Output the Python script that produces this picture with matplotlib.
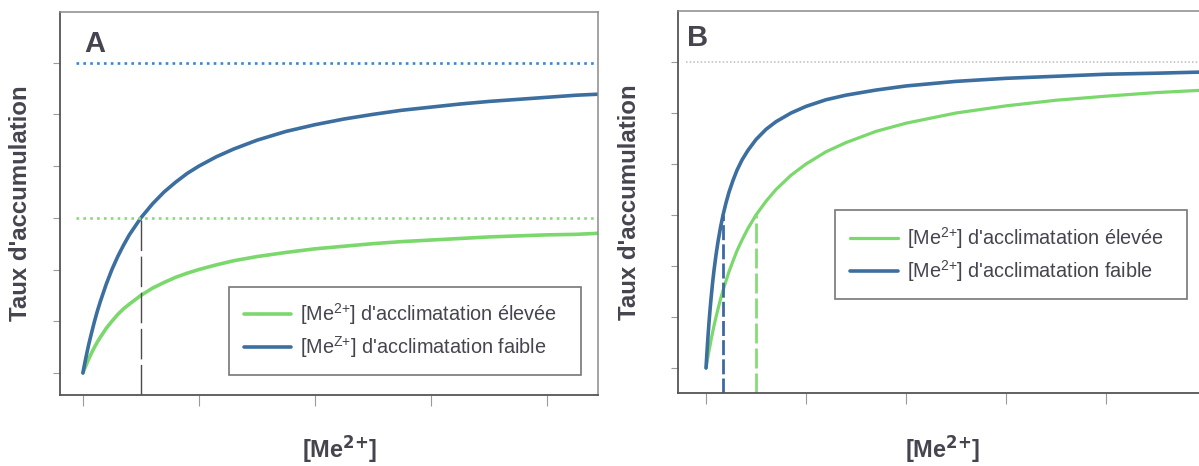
import matplotlib
matplotlib.use("Agg")
import matplotlib.pyplot as plt

plt.rcParams['font.family'] = ['Liberation Sans', 'DejaVu Sans']
plt.rcParams['mathtext.default'] = 'regular'

TXT = '#46444f'
GREEN = '#7bd86c'
BLUE = '#3c6f9f'

# panel A : values
xa = [0, 0.01, 0.025, 0.05, 0.075, 0.1, 0.125, 0.15, 0.2, 0.25, 0.3, 0.35, 0.4,
      0.5, 0.6, 0.7, 0.8, 0.9, 1.0, 1.15, 1.3, 1.5, 1.75, 2.0, 2.25, 2.5, 2.75,
      3.0, 3.25, 3.5, 3.75, 4.0, 4.25, 4.44]
ya_faible = [0, 0.12, 0.29, 0.55, 0.78, 1.0, 1.2, 1.38, 1.71, 2.0, 2.25, 2.47,
             2.67, 3.0, 3.27, 3.5, 3.69, 3.86, 4.0, 4.18, 4.33, 4.5, 4.67, 4.8,
             4.91, 5.0, 5.08, 5.14, 5.2, 5.25, 5.29, 5.33, 5.37, 5.39]
ya_elevee = [0, 0.06, 0.14, 0.27, 0.39, 0.5, 0.6, 0.69, 0.86, 1.0, 1.13, 1.24,
             1.33, 1.5, 1.64, 1.75, 1.85, 1.93, 2.0, 2.09, 2.17, 2.25, 2.33, 2.4,
             2.45, 2.5, 2.54, 2.57, 2.6, 2.63, 2.65, 2.67, 2.68, 2.70]
vmax_a = [6, 3]          # faible, elevee
km_a = 0.5

# panel B
xb = [0, 0.005, 0.01, 0.02, 0.03, 0.04, 0.05, 0.065, 0.08, 0.1, 0.12, 0.145,
      0.17, 0.2, 0.23, 0.27, 0.31, 0.36, 0.42, 0.5, 0.6, 0.7, 0.85, 1.0, 1.2,
      1.4, 1.7, 2.0, 2.5, 3.0, 3.5, 4.0, 4.5, 5.1]
yb_faible = [0, 0.17, 0.33, 0.63, 0.9, 1.14, 1.36, 1.66, 1.92, 2.22, 2.48, 2.76,
             3.0, 3.24, 3.45, 3.68, 3.88, 4.08, 4.27, 4.48, 4.68, 4.83, 5.0, 5.13,
             5.26, 5.35, 5.45, 5.53, 5.62, 5.68, 5.72, 5.76, 5.78, 5.81]
yb_elevee = [0, 0.06, 0.12, 0.23, 0.34, 0.44, 0.55, 0.69, 0.83, 1.0, 1.16, 1.35,
             1.52, 1.71, 1.89, 2.1, 2.3, 2.51, 2.74, 3.0, 3.27, 3.5, 3.78, 4.0,
             4.24, 4.42, 4.64, 4.8, 5.0, 5.14, 5.25, 5.33, 5.4, 5.46]
vmax_b = 6
km_b = [0.17, 0.5]       # faible, elevee

lab_elevee = "[Me$^{2{+}}$] d'acclimatation élevée"
lab_faible_a = "[Me$^{Z{+}}$] d'acclimatation faible"
lab_faible_b = "[Me$^{2{+}}$] d'acclimatation faible"


def style_axes(ax, xticks):
    ax.set_xticks(xticks)
    ax.set_yticks(range(7))
    ax.set_xticklabels([])
    ax.set_yticklabels([])
    ax.tick_params(axis='y', length=5, width=0.8, color='#9a9a9a', direction='out')
    ax.tick_params(axis='x', length=8, width=0.8, color='#9a9a9a', direction='out')
    for side in ['left', 'bottom']:
        ax.spines[side].set_color('#555555')
        ax.spines[side].set_linewidth(1.3)
    for side in ['top', 'right']:
        ax.spines[side].set_color('#8a8a8a')
        ax.spines[side].set_linewidth(1.1)


def add_legend(ax, labels, anchor):
    leg = ax.legend(labels, loc='lower left', bbox_to_anchor=anchor, mode='expand',
                    fontsize=14.3, frameon=True, fancybox=False, borderpad=0.75,
                    handlelength=2.4, handletextpad=0.45, labelspacing=0.35,
                    borderaxespad=0)
    leg.get_frame().set_edgecolor('#555555')
    leg.get_frame().set_linewidth(1.2)
    for t in leg.get_texts():
        t.set_color(TXT)
    return leg


fig = plt.figure(figsize=(11.99, 4.66), dpi=100)

# ---- panel A
axA = fig.add_axes([0.050, 0.1524, 0.4487, 0.8219])
axA.set_xlim(-0.198, 4.44)
axA.set_ylim(-0.426, 6.98)
axA.plot(xa, ya_elevee, color=GREEN, lw=2.6, solid_capstyle='round')
axA.plot(xa, ya_faible, color=BLUE, lw=2.6, solid_capstyle='round')
axA.plot([-0.06, 4.44], [vmax_a[0]] * 2, color='#3a86cc', lw=1.9, dashes=(1, 1.6))
axA.plot([-0.06, 4.44], [vmax_a[1]] * 2, color='#86dc78', lw=1.9, dashes=(1, 1.6))
axA.plot([km_a, km_a], [-0.426, vmax_a[1]], color='#4a4a4a', lw=1.0, dashes=(22, 4))
style_axes(axA, range(5))
axA.text(0.046, 0.896, 'A', transform=axA.transAxes, fontsize=21, fontweight='bold',
         color=TXT, va='baseline')
leg = add_legend(axA, [lab_elevee, lab_faible_a], (0.314, 0.052, 0.654, 0.24))
leg.legend_handles[0].set_color(GREEN)
leg.legend_handles[1].set_color(BLUE)

# ---- panel B
axB = fig.add_axes([0.5655, 0.1567, 0.4487, 0.8197])
axB.set_xlim(-0.28, 5.10)
axB.set_ylim(-0.49, 7.0)
axB.plot(xb, yb_elevee, color=GREEN, lw=2.3, solid_capstyle='round')
axB.plot(xb, yb_faible, color=BLUE, lw=2.6, solid_capstyle='round')
axB.plot([-0.2, 5.1], [vmax_b] * 2, color='#bdbdbd', lw=1.1, dashes=(1, 1.4))
axB.plot([km_b[0], km_b[0]], [-0.49, vmax_b / 2], color='#3d68a3', lw=2.0, dashes=(5.4, 1.5))
axB.plot([km_b[1], km_b[1]], [-0.49, vmax_b / 2], color='#86dc78', lw=2.0, dashes=(7.2, 1.8))
style_axes(axB, range(6))
axB.text(0.017, 0.908, 'B', transform=axB.transAxes, fontsize=21, fontweight='bold',
         color=TXT, va='baseline')
add_legend(axB, [lab_elevee, lab_faible_b], (0.292, 0.246, 0.654, 0.24))

# axis titles
for xc, yc in [(21, 203), (629, 202)]:
    fig.text(xc / 1199, 1 - yc / 466, "Taux d'accumulation", rotation=90,
             ha='center', va='center', fontsize=17.3, fontweight='bold', color=TXT)
for xc in [340, 943]:
    fig.text(xc / 1199, 1 - 458 / 466, "[Me$^{\\mathbf{2{+}}}$]", ha='center',
             va='baseline', fontsize=17, fontweight='bold', color=TXT)

fig.savefig('out.png', dpi=100)
